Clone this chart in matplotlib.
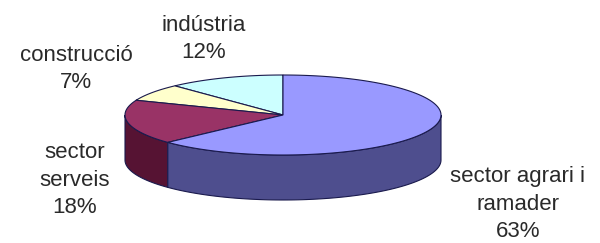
import numpy as np
import matplotlib
matplotlib.use("Agg")
import matplotlib.pyplot as plt
from matplotlib.patches import Polygon

# data (counter-clockwise from 12 o'clock)
labels = ["indústria", "construcció", "sector\nserveis", "sector agrari i\nramader"]
values = [12, 7, 18, 63]
top_colors = ["#CCFFFF", "#FFFFCC", "#993366", "#9999FF"]
side_colors = ["#8CB3B3", "#B3B38C", "#561333", "#4E4E8E"]

# geometry in pixels
W, H = 600, 243
cx, cy = 283, 115
a, b = 158, 40
depth = 45
edge = "#1A1A4D"

fig = plt.figure(figsize=(W / 100, H / 100), dpi=100)
ax = fig.add_axes([0, 0, 1, 1])
ax.set_xlim(0, W)
ax.set_ylim(H, 0)
ax.axis("off")

def pt(t):
    return cx + a * np.cos(t), cy - b * np.sin(t)

fracs = np.array(values) / sum(values)
starts = np.pi / 2 + 2 * np.pi * np.concatenate([[0], np.cumsum(fracs)[:-1]])
ends = starts + 2 * np.pi * fracs

# side walls (front half only: angles between pi and 2pi)
for s, e, sc in zip(starts, ends, side_colors):
    for k in range(0, 3):
        lo = max(s, np.pi + 2 * np.pi * k)
        hi = min(e, 2 * np.pi + 2 * np.pi * k)
        if hi <= lo:
            continue
        t = np.linspace(lo, hi, 100)
        x, y = pt(t)
        xs = np.concatenate([x, x[::-1]])
        ys = np.concatenate([y, y[::-1] + depth])
        ax.add_patch(Polygon(np.column_stack([xs, ys]), closed=True,
                             facecolor=sc, edgecolor=edge, lw=0.8))

# top faces
for s, e, tc in zip(starts, ends, top_colors):
    t = np.linspace(s, e, 200)
    x, y = pt(t)
    xs = np.concatenate([[cx], x])
    ys = np.concatenate([[cy], y])
    ax.add_patch(Polygon(np.column_stack([xs, ys]), closed=True,
                         facecolor=tc, edgecolor=edge, lw=0.8))

# labels
txt = dict(ha="center", va="center", fontsize=16, color="#2A2A2A",
           family="Liberation Sans", linespacing=1.38)
label_pos = [(204, 39), (76, 69), (75, 180), (518, 204)]
for lab, v, (lx, ly) in zip(labels, values, label_pos):
    ax.text(lx, ly, f"{lab}\n{v}%", **txt)

fig.savefig("out.png", dpi=100)
